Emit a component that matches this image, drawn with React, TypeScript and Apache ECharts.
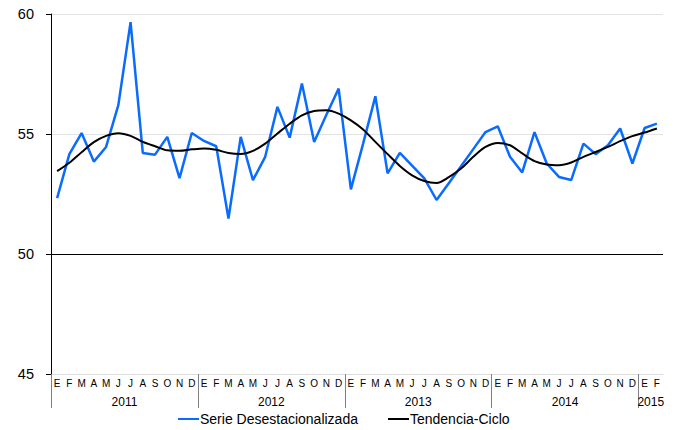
import React, { useEffect, useRef } from "react";
import * as echarts from "echarts";

const years = ["2011", "2012", "2013", "2014", "2015"];
const monthsPerYear = [12, 12, 12, 12, 2];
const monthLetters = ["E", "F", "M", "A", "M", "J", "J", "A", "S", "O", "N", "D"];

const serieDesestacionalizada = [
  52.33, 54.16, 55.04, 53.85, 54.46, 56.2, 59.66, 54.21, 54.14, 54.88, 53.16, 55.04,
  54.71, 54.49, 51.48, 54.88, 53.08, 54.05, 56.13, 54.85, 57.1, 54.67, 55.8, 56.89,
  52.69, 54.6, 56.57, 53.36, 54.21, 53.68, 53.15, 52.25, 52.95, 53.66, 54.37, 55.08,
  55.32, 54.05, 53.4, 55.08, 53.77, 53.21, 53.08, 54.6, 54.16, 54.53, 55.23, 53.77,
  55.25, 55.43,
];

const tendenciaCiclo = [
  53.45, 53.8, 54.24, 54.66, 54.92, 55.03, 54.92, 54.67, 54.49, 54.32, 54.3, 54.36,
  54.4, 54.34, 54.21, 54.17, 54.3, 54.6, 55.02, 55.43, 55.78, 55.96, 55.99, 55.85,
  55.57, 55.19, 54.67, 54.16, 53.67, 53.28, 53.04, 52.96, 53.2, 53.56, 54.05, 54.46,
  54.63, 54.53, 54.19, 53.87, 53.73, 53.7, 53.81, 54.05, 54.25, 54.46, 54.7, 54.91,
  55.06, 55.23,
];

const yTicks = { min: 45, max: 60, interval: 5 };

export default function App() {
  const ref = useRef<HTMLDivElement>(null);

  useEffect(() => {
    if (!ref.current) return;
    const chart = echarts.init(ref.current, undefined, { renderer: "svg" });

    const categories: string[] = [];
    years.forEach((y, k) => {
      for (let m = 0; m < monthsPerYear[k]; m++) categories.push(`${y}-${m}`);
    });
    const total = categories.length;
    const starts: number[] = [];
    const centers: number[] = [];
    let acc = 0;
    monthsPerYear.forEach((n) => {
      starts.push(acc);
      centers.push(acc + n / 2);
      acc += n;
    });

    const font = "Arial, 'Liberation Sans', sans-serif";

    chart.setOption({
      animation: false,
      backgroundColor: "#ffffff",
      grid: {
        left: 51,
        right: 26,
        top: 14,
        bottom: 56,
        containLabel: false,
        outerBoundsMode: "none",
      },
      legend: {
        top: 412,
        left: 178,
        padding: 0,
        itemGap: 30,
        itemWidth: 21,
        itemHeight: 2,
        icon: "rect",
        textStyle: { fontFamily: font, fontSize: 14, color: "#000", padding: [0, 0, 0, -4] },
        data: ["Serie Desestacionalizada", "Tendencia-Ciclo"],
      },
      xAxis: [
        {
          type: "category",
          data: categories,
          boundaryGap: true,
          position: "bottom",
          axisLine: { show: true, lineStyle: { color: "#dddddd", width: 1 } },
          axisTick: { show: false },
          axisLabel: {
            interval: 0,
            margin: 4,
            fontFamily: font,
            fontSize: 10,
            color: "#000",
            formatter: (v: string) => monthLetters[Number(v.split("-")[1])],
          },
          splitLine: { show: false },
        },
        {
          type: "value",
          min: 0,
          max: total,
          position: "bottom",
          axisLine: { show: false },
          axisTick: {
            show: true,
            length: 34,
            inside: false,
            customValues: starts,
            lineStyle: { color: "#808080", width: 1 },
          },
          axisLabel: {
            show: true,
            margin: 22,
            fontFamily: font,
            fontSize: 12,
            color: "#000",
            customValues: centers,
            formatter: (v: number) => {
              const k = centers.indexOf(v);
              return k >= 0 ? years[k] : "";
            },
          },
          splitLine: { show: false },
        },
      ],
      yAxis: {
        type: "value",
        min: yTicks.min,
        max: yTicks.max,
        interval: yTicks.interval,
        axisLine: { show: true, lineStyle: { color: "#000", width: 1 } },
        axisTick: { show: true, length: 5, inside: false, lineStyle: { color: "#000" } },
        axisLabel: { margin: 17, fontFamily: font, fontSize: 14.5, color: "#000" },
        splitLine: { show: true, lineStyle: { color: "#e3e3e3", width: 1 } },
      },
      series: [
        {
          name: "Serie Desestacionalizada",
          type: "line",
          data: serieDesestacionalizada,
          xAxisIndex: 0,
          showSymbol: false,
          symbol: "none",
          lineStyle: { color: "#0A6CFF", width: 2.5 },
          itemStyle: { color: "#0A6CFF" },
          z: 3,
          markLine: {
            silent: true,
            symbol: "none",
            label: { show: false },
            lineStyle: { color: "#000", width: 1, type: "solid" },
            data: [{ yAxis: 50 }],
          },
        },
        {
          name: "Tendencia-Ciclo",
          type: "line",
          data: tendenciaCiclo,
          xAxisIndex: 0,
          showSymbol: false,
          symbol: "none",
          smooth: 0.3,
          lineStyle: { color: "#000", width: 2 },
          itemStyle: { color: "#000" },
          z: 4,
        },
      ],
    });

    return () => chart.dispose();
  }, []);

  return <div ref={ref} style={{ width: 689, height: 430, position: "absolute", left: 0, top: 0 }} />;
}
